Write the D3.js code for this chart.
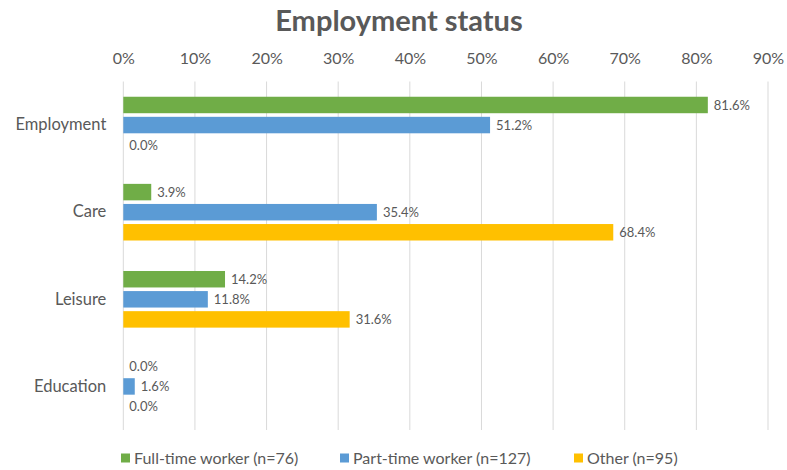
<!DOCTYPE html>
<html>
<head>
<meta charset="utf-8">
<script src="https://cdn.jsdelivr.net/npm/d3@7"></script>
<style>
  html, body { margin: 0; padding: 0; background: #fff; }
  svg { display: block; font-family: Lato, "Open Sans", sans-serif; }
</style>
</head>
<body>
<svg id="chart" width="787" height="470"></svg>
<script>
// Activity categories (top to bottom)
const categories = ["Employment", "Care", "Leisure", "Education"];
// Series names shown in the legend
const seriesNames = ["Full-time worker (n=76)", "Part-time worker (n=127)", "Other (n=95)"];
// Shares per category, one array per series (percent)
const fullTime = [81.6, 3.9, 14.2, 0.0];
const partTime = [51.2, 35.4, 11.8, 1.6];
const other = [0.0, 68.4, 31.6, 0.0];
// Axis tick values (percent)
const tickValues = [0, 10, 20, 30, 40, 50, 60, 70, 80, 90];

const colors = ["#70AD47", "#5B9BD5", "#FFC000"];
const textColor = "#595959";

const svg = d3.select("#chart");
const margin = { top: 81.5, right: 19, bottom: 40, left: 123.3 };
const W = 787, H = 470;
const innerW = W - margin.left - margin.right;
const innerH = H - margin.top - margin.bottom;

const series = [fullTime, partTime, other].map((vals, i) => ({ name: seriesNames[i], color: colors[i], values: vals }));

const x = d3.scaleLinear().domain([0, 90]).range([0, innerW]);
const y0 = d3.scaleBand().domain(categories).range([0, innerH]).paddingInner(0.35).paddingOuter(0.175);
const y1 = d3.scaleBand().domain(d3.range(series.length)).range([0, y0.bandwidth()]).paddingInner(0.18);

const g = svg.append("g").attr("transform", `translate(${margin.left},${margin.top})`);

// Title
svg.append("text")
  .attr("x", 399).attr("y", 31)
  .attr("text-anchor", "middle")
  .attr("font-size", 29).attr("font-weight", "bold")
  .attr("fill", textColor)
  .text("Employment status");

// Vertical gridlines
g.append("g")
  .selectAll("line")
  .data(tickValues)
  .join("line")
  .attr("x1", d => x(d)).attr("x2", d => x(d))
  .attr("y1", 0).attr("y2", innerH)
  .attr("stroke", "#D9D9D9").attr("stroke-width", 1);

// Top axis with percentage labels
const xAxis = d3.axisTop(x).tickValues(tickValues).tickFormat(d => d + "%").tickSize(0).tickPadding(0);
const axisG = svg.append("g")
  .attr("transform", `translate(${margin.left},64)`)
  .call(xAxis);
axisG.select(".domain").remove();
axisG.selectAll("text").attr("fill", textColor).attr("font-size", 16).attr("font-family", "Lato, sans-serif");

// Category labels
const catAxis = d3.axisLeft(y0).tickSize(0).tickPadding(17);
const catG = g.append("g").call(catAxis);
catG.select(".domain").remove();
catG.selectAll("text").attr("fill", textColor).attr("font-size", 16.5).attr("font-family", "Lato, sans-serif");

// Bars and value labels
const groups = g.selectAll("g.cat")
  .data(categories)
  .join("g")
  .attr("class", "cat")
  .attr("transform", d => `translate(0,${y0(d)})`);

groups.each(function (cat, ci) {
  const gg = d3.select(this);
  series.forEach((s, si) => {
    const v = s.values[ci];
    gg.append("rect")
      .attr("x", 0)
      .attr("y", y1(si))
      .attr("width", x(v))
      .attr("height", y1.bandwidth())
      .attr("fill", s.color);
    gg.append("text")
      .attr("x", x(v) + 6)
      .attr("y", y1(si) + y1.bandwidth() / 2)
      .attr("dy", "0.35em")
      .attr("font-size", 13)
      .attr("fill", textColor)
      .text(v.toFixed(1) + "%");
  });
});

// Legend
const legendX = [121, 340, 574];
const legend = svg.append("g").selectAll("g")
  .data(series)
  .join("g")
  .attr("transform", (d, i) => `translate(${legendX[i]},458)`);
legend.append("rect")
  .attr("x", 0).attr("y", -4.5)
  .attr("width", 9).attr("height", 9)
  .attr("fill", d => d.color);
legend.append("text")
  .attr("x", 13).attr("y", 0).attr("dy", "0.35em")
  .attr("font-size", 16)
  .attr("fill", textColor)
  .text(d => d.name);
</script>
</body>
</html>
